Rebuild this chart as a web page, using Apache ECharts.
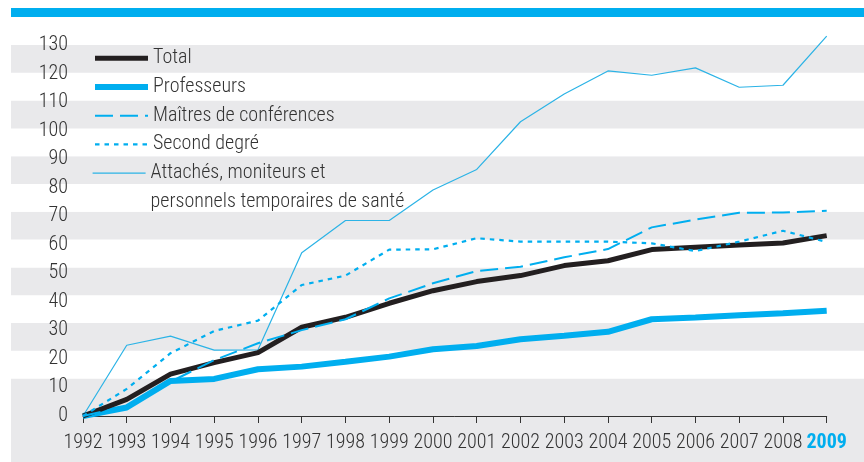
<!DOCTYPE html>
<html>
<head>
<meta charset="utf-8">
<script src="https://cdn.jsdelivr.net/npm/echarts@6/dist/echarts.min.js"></script>
<style>
html,body{margin:0;padding:0;background:#fff;}
#chart{width:864px;height:462px;}
</style>
</head>
<body>
<div id="chart"></div>
<script>
var years = ['1992','1993','1994','1995','1996','1997','1998','1999','2000','2001','2002','2003','2004','2005','2006','2007','2008','2009'];
var yTicks = [0,10,20,30,40,50,60,70,80,90,100,110,120,130];
var total      = [0, 5.8, 14.7, 18.7, 22.2, 31.1, 34.6, 39.5, 43.9, 47.1, 49.2, 52.7, 54.4, 58.3, 59.1, 59.9, 60.6, 63.2];
var professeurs= [0, 3.0, 12.3, 13.0, 16.4, 17.3, 19.0, 20.8, 23.4, 24.5, 26.9, 28.1, 29.5, 33.9, 34.5, 35.3, 36.0, 36.9];
var maitres    = [0, 3.5, 12.0, 19.6, 25.5, 30.1, 33.9, 41.2, 46.5, 50.8, 52.3, 55.6, 58.5, 66.1, 68.8, 71.2, 71.3, 71.9];
var second     = [0, 9.5, 22.0, 29.8, 33.4, 45.9, 49.2, 58.3, 58.4, 62.3, 61.1, 61.1, 61.1, 60.5, 57.8, 61.1, 64.9, 61.0];
var attaches   = [0, 24.8, 28.0, 23.1, 23.2, 57.2, 68.5, 68.5, 79.2, 86.4, 103.1, 112.8, 120.9, 119.4, 122.0, 115.2, 115.9, 133.1];
var names = ['Total','Professeurs','Maîtres de conférences','Second degré','Attachés, moniteurs et\npersonnels temporaires de santé'];

var BLUE = '#00AEEF';
var GREY = '#E9E9EB';
var TXT = '#333333';
var FONT = '"Roboto Condensed", "Open Sans", sans-serif';
var W = 300;

var bandColors = [GREY, GREY, GREY];
for (var i = 3; i < 15; i++) bandColors.push(i % 2 === 0 ? GREY : '#ffffff');

var legendCommon = {
  orient: 'vertical', left: 92, padding: 0,
  itemWidth: 53, itemHeight: 28.7, itemGap: 0,
  textStyle: {fontSize: 20, color: TXT, lineHeight: 28.7, fontFamily: FONT, fontWeight: W},
  itemStyle: {opacity: 0, borderWidth: 0},
  lineStyle: {width: 'inherit'},
  selectedMode: false
};

var chart = echarts.init(document.getElementById('chart'), null, {renderer: 'canvas'});
chart.setOption({
  animation: false,
  backgroundColor: '#ffffff',
  textStyle: {fontFamily: FONT},
  graphic: [{
    type: 'rect', left: 11, top: 8, z: 100,
    shape: {width: 853, height: 9},
    style: {fill: BLUE}
  }],
  grid: [
    {left: 83, right: 37.3, top: 45, bottom: 46, containLabel: false},
    {left: 11, right: 0, top: 45, bottom: -11, containLabel: false, z: 0}
  ],
  xAxis: [{
    type: 'category', gridIndex: 0, boundaryGap: false,
    data: years.map(function (y, i) {
      return i === years.length - 1 ? {value: y, textStyle: {color: BLUE, fontWeight: 'bold'}} : y;
    }),
    axisLine: {show: true, lineStyle: {color: '#333', width: 1}},
    axisTick: {show: true, length: 7, lineStyle: {color: '#333'}},
    axisLabel: {interval: 0, fontSize: 20, color: TXT, margin: 17, fontFamily: FONT, fontWeight: W},
    splitLine: {show: false}
  }, {
    type: 'value', gridIndex: 1, show: false, min: 0, max: 1
  }],
  yAxis: [{
    type: 'value', gridIndex: 0, min: yTicks[0], max: yTicks[yTicks.length - 1], interval: 10,
    axisLine: {show: false}, axisTick: {show: false},
    axisLabel: {fontSize: 20, color: TXT, margin: 15, fontFamily: FONT, fontWeight: W},
    splitLine: {show: false}
  }, {
    type: 'value', gridIndex: 1, min: -20, max: 130, interval: 10,
    axisLine: {show: false}, axisTick: {show: false}, axisLabel: {show: false},
    splitLine: {show: false},
    splitArea: {show: true, areaStyle: {color: bandColors}}
  }],
  legend: [
    Object.assign({}, legendCommon, {top: 44, data: names.slice(0, 4)}),
    Object.assign({}, legendCommon, {top: 130, data: [names[4]],
      formatter: function (n) { return '\n' + n; }})
  ],
  series: [
    {name: names[4], type: 'line', data: attaches, symbol: 'none', z: 2, clip: false,
     lineStyle: {color: '#2BB3E6', width: 1.2}, itemStyle: {color: '#2BB3E6'}},
    {name: names[1], type: 'line', data: professeurs, symbol: 'none', z: 3, clip: false,
     lineStyle: {color: BLUE, width: 6}, itemStyle: {color: BLUE}},
    {name: names[0], type: 'line', data: total, symbol: 'none', z: 4, clip: false,
     lineStyle: {color: '#231F20', width: 5}, itemStyle: {color: '#231F20'}},
    {name: names[2], type: 'line', data: maitres, symbol: 'none', z: 5, clip: false,
     lineStyle: {color: BLUE, width: 2, type: [18, 7]}, itemStyle: {color: BLUE}},
    {name: names[3], type: 'line', data: second, symbol: 'none', z: 5, clip: false,
     lineStyle: {color: BLUE, width: 2.2, type: [4.5, 5]}, itemStyle: {color: BLUE}}
  ]
});
</script>
</body>
</html>
